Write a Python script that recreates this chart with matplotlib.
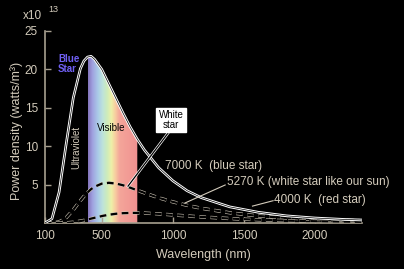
import matplotlib

matplotlib.use("Agg")
import matplotlib.pyplot as plt
import matplotlib.patheffects as pe
import numpy as np
from matplotlib.colors import LinearSegmentedColormap
from matplotlib.patches import Polygon

plt.rcParams["font.family"] = ["Liberation Sans", "DejaVu Sans"]

# wavelength (nm) and power density (x10^13 W/m^3)
wavelength = [100, 150, 200, 250, 300, 350, 375, 400, 425, 450, 500, 550, 600, 650,
              700, 750, 800, 900, 1000, 1100, 1200, 1400, 1600, 1800, 2000, 2200, 2330]
blue_7000 = [0.0, 0.55, 4.0, 10.3, 16.3, 20.1, 21.1, 21.6, 21.7, 21.3, 20.0, 18.1, 16.2, 14.3,
             12.5, 10.9, 9.5, 7.2, 5.5, 4.2, 3.3, 2.1, 1.4, 0.93, 0.65, 0.47, 0.39]
white_5270 = [0.0, 0.01, 0.14, 0.69, 1.72, 2.92, 3.48, 3.97, 4.41, 4.72, 5.12, 5.23, 5.14, 4.91,
              4.60, 4.25, 3.92, 3.28, 2.75, 2.30, 1.92, 1.33, 0.92, 0.65, 0.47, 0.36, 0.30]
red_4000 = [0.0, 0.0, 0.0, 0.02, 0.10, 0.25, 0.34, 0.45, 0.57, 0.68, 0.90, 1.08, 1.20, 1.28,
            1.31, 1.31, 1.29, 1.19, 1.05, 0.92, 0.79, 0.58, 0.42, 0.31, 0.23, 0.18, 0.15]
visible_band = (400, 750)
x_ticks = [100, 500, 1000, 1500, 2000]
y_ticks = [5, 10, 15, 20, 25]

TXT = "#d4ccbc"
AXC = "#a8a090"

fig = plt.figure(figsize=(4.04, 2.69), dpi=100, facecolor="black")
ax = fig.add_axes([0.111, 0.171, 0.785, 0.714], facecolor="black")

# rainbow fill under the 7000 K curve over the visible band
lo, hi = visible_band
vis = [(w, p) for w, p in zip(wavelength, blue_7000) if lo <= w <= hi]
verts = [(lo, 0)] + vis + [(hi, 0)]
clip = Polygon(verts, closed=True, facecolor="none", edgecolor="none")
ax.add_patch(clip)
rainbow = LinearSegmentedColormap.from_list("vis", [
    (0.00, "#8474bc"), (0.09, "#a0a2e0"), (0.20, "#aacbe8"), (0.29, "#bde2dc"),
    (0.38, "#cdecbc"), (0.47, "#eef0a8"), (0.55, "#f8cca0"), (0.63, "#f4a69a"),
    (1.00, "#f09090")])
im = ax.imshow(np.linspace(0, 1, 256)[None, :], cmap=rainbow, aspect="auto",
               extent=[lo, hi, 0, 25], zorder=1)
im.set_clip_path(clip)

outline = [pe.Stroke(linewidth=1.9, foreground="white"), pe.Normal()]
ax.plot(wavelength, blue_7000, color="black", lw=0.5, path_effects=outline, zorder=4)
dash_fx = [pe.Stroke(linewidth=2.4, foreground=TXT), pe.Normal()]
for series in (white_5270, red_4000):
    ax.plot(wavelength, series, color="black", lw=1.6, ls=(0, (3, 2)),
            path_effects=dash_fx, zorder=3)

ax.set_xlim(100, 2330)
ax.set_ylim(0, 25)
ax.set_xticks(x_ticks)
ax.set_yticks(y_ticks)
for s in ("top", "right"):
    ax.spines[s].set_visible(False)
for s in ("left", "bottom"):
    ax.spines[s].set_color(AXC)
    ax.spines[s].set_linewidth(1.2)
ax.tick_params(direction="in", length=4, width=1, color=AXC, labelcolor=TXT,
               labelsize=8.5)
ax.tick_params(axis="x", pad=5)
ax.tick_params(axis="y", pad=5)
ax.set_xlabel("Wavelength (nm)", color=TXT, fontsize=9, labelpad=5)
ax.set_ylabel("Power density (watts/m³)", color=TXT, fontsize=9)
ax.yaxis.set_label_coords(-0.07, 0.48)

fig.text(23 / 404, 1 - 16 / 269, "x10", color=TXT, fontsize=8.5, va="center")
fig.text(48 / 404, 1 - 10 / 269, "13", color=TXT, fontsize=6.5, va="center")

ax.text(192, 20.7, "Blue\nStar", color="#7060f4", fontsize=7, fontweight="bold",
        ha="left", va="center", linespacing=1.0, zorder=5)
ax.text(565, 12.4, "Visible", color="black", fontsize=7, ha="center", va="center", zorder=5)
ax.text(318, 9.9, "Ultraviolet", color=TXT, fontsize=7, rotation=90,
        ha="center", va="center", zorder=5)

# White star call-out
ax.plot([966, 685], [11.7, 4.8], color="black", lw=0.9, path_effects=outline, zorder=5)
ax.text(987, 13.4, "White\nstar", color="black", fontsize=7, ha="center", va="center",
        linespacing=1.0, zorder=6,
        bbox=dict(boxstyle="square,pad=0.25", facecolor="white", edgecolor="white"))

ax.text(945, 7.4, "7000 K  (blue star)", color=TXT, fontsize=8.5, ha="left", va="center")
ax.text(1382, 5.3, "5270 K (white star like our sun)", color=TXT, fontsize=8.5,
        ha="left", va="center")
ax.text(1713, 3.0, "4000 K  (red star)", color=TXT, fontsize=8.5, ha="left", va="center")
ax.plot([1368, 1085], [4.95, 2.6], color=TXT, lw=0.8, zorder=5)
ax.plot([1705, 1560], [2.9, 2.2], color=TXT, lw=0.8, zorder=5)

fig.savefig("out.png", dpi=100, facecolor="black")
